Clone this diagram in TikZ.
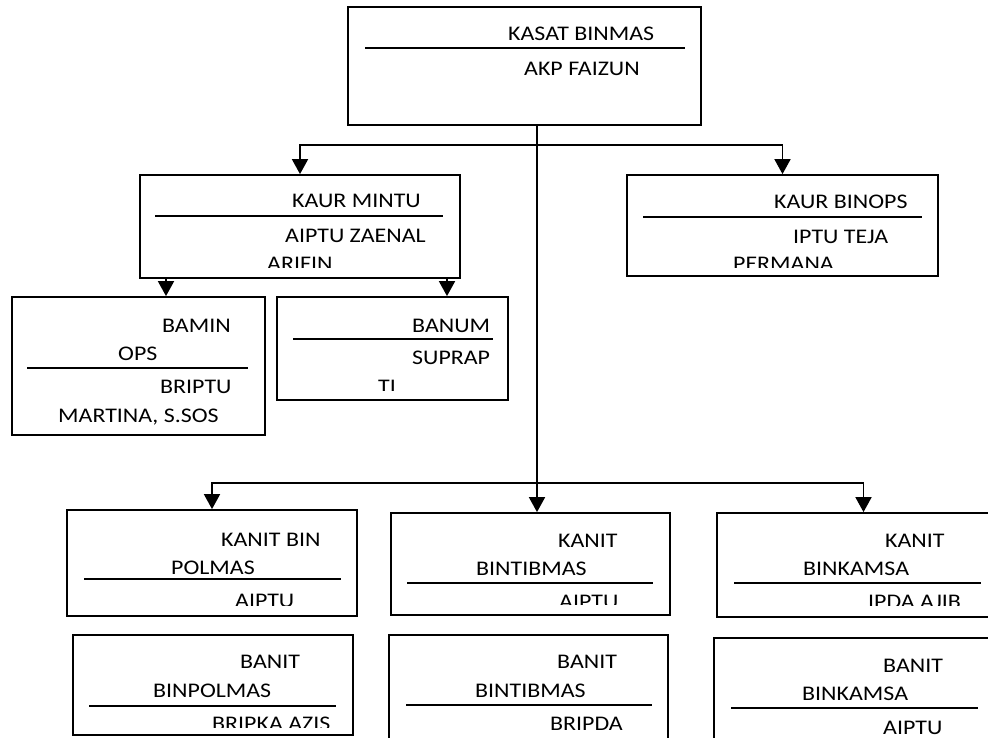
\documentclass[tikz,border=0pt]{standalone}
\usepackage{fontspec}
\setmainfont{Carlito}[FakeStretch=1.15]
\usetikzlibrary{arrows.meta}

\newcommand\labelfont{\fontsize{20.8}{24}\selectfont}

\tikzset{
  orgbox/.style={draw, line width=1.8pt, inner sep=0pt, fill=white},
  txt/.style={anchor=base west, inner sep=0pt, font=\labelfont},
  sepline/.style={line width=1.8pt},
  link/.style={line width=1.8pt},
  arrowlink/.style={line width=1.8pt, -{Triangle[width=16pt,length=15pt]}}
}

% box from corner (x1,y1) to (x2,y2)
\newcommand\orgnode[5]{%
  \node[orgbox, minimum width={(#4-#2)*1pt}, minimum height={(#5-#3)*1pt}]
    (#1) at ({(#2+#4)/2},{(#3+#5)/2}) {};}
% one line of text, left end and baseline
\newcommand\tline[4]{\node[txt] (#1) at (#2,#3) {#4};}
% rule under the title of a box
\newcommand\titlerule[3]{\draw[sepline] (#1,#3) -- (#2,#3);}

\begin{document}
\begin{tikzpicture}[x=1pt,y=-1pt]
\clip (0,0) rectangle (988,737);
\fill[white] (0,0) rectangle (988,737);

% ---------- boxes ----------
\orgnode{kasat}{348}{7}{701}{125}
\orgnode{mintu}{140}{175}{460}{278}
\orgnode{binops}{627}{175}{938}{276}
\orgnode{bamin}{12}{297}{265}{435}
\orgnode{banum}{277}{297}{508}{400}
\orgnode{polmas}{67}{510}{357}{616}
\orgnode{tibmas}{391}{513}{670}{615}
\orgnode{kamsa}{717}{513}{1010}{617}
\orgnode{bpolmas}{73}{635}{353}{735}
\orgnode{btibmas}{389}{635}{668}{760}
\orgnode{bkamsa}{714}{638}{1010}{760}

% ---------- connectors ----------
\coordinate (upbar) at (537,145);
\coordinate (lowbar) at (537,483);
\coordinate (mintuL) at (166,0);
\coordinate (mintuR) at (447,0);

\draw[link] (kasat.south -| upbar) -- (lowbar);
\draw[arrowlink] (upbar) -| (mintu.north);
\draw[arrowlink] (upbar) -| (binops.north);
\draw[arrowlink] (lowbar) -| (polmas.north);
\draw[arrowlink] (lowbar) -- (tibmas.north -| lowbar);
\draw[arrowlink] (lowbar) -| (kamsa.north);
\draw[arrowlink] (mintu.south -| mintuL) -- (bamin.north -| mintuL);
\draw[arrowlink] (mintu.south -| mintuR) -- (banum.north -| mintuR);

% ---------- texts ----------
\tline{kasat1}{508}{40}{KASAT BINMAS}
\titlerule{365}{685}{48}
\tline{kasat2}{524}{75}{AKP FAIZUN}

\tline{mintu1}{292}{207}{KAUR MINTU}
\titlerule{155}{443}{216}
\tline{mintu2}{285}{242}{AIPTU ZAENAL}
\begin{scope}
  \clip (140,175) rectangle (460,267);
  \tline{mintu3}{267}{270}{ARIFIN}
\end{scope}

\tline{binops1}{774}{208}{KAUR BINOPS}
\titlerule{643}{922}{217}
\tline{binops2}{793}{243}{IPTU TEJA}
\begin{scope}
  \clip (627,175) rectangle (938,267);
  \tline{binops3}{733}{270}{PERMANA}
\end{scope}

\tline{bamin1}{162}{332}{BAMIN}
\tline{bamin2}{118}{360}{OPS}
\titlerule{27}{248}{368}
\tline{bamin3}{160}{393}{BRIPTU}
\tline{bamin4}{58}{422}{MARTINA, S.SOS}

\tline{banum1}{412}{332}{BANUM}
\titlerule{293}{493}{339}
\tline{banum2}{412}{364}{SUPRAP}
\begin{scope}
  \clip (277,297) rectangle (508,390);
  \tline{banum3}{378}{393}{TI}
\end{scope}

\tline{polmas1}{221}{546}{KANIT BIN}
\tline{polmas2}{171}{574}{POLMAS}
\titlerule{84}{341}{579}
\begin{scope}
  \clip (67,510) rectangle (357,605);
  \tline{polmas3}{235}{607}{AIPTU}
\end{scope}

\tline{tibmas1}{558}{547}{KANIT}
\tline{tibmas2}{476}{575}{BINTIBMAS}
\titlerule{407}{653}{583}
\begin{scope}
  \clip (391,513) rectangle (670,604);
  \tline{tibmas3}{559}{608}{AIPTU}
\end{scope}

\tline{kamsa1}{885}{547}{KANIT}
\tline{kamsa2}{803}{575}{BINKAMSA}
\titlerule{734}{981}{583}
\begin{scope}
  \clip (717,513) rectangle (1010,605);
  \tline{kamsa3}{868}{608}{IPDA AJIB}
\end{scope}

\tline{bpolmas1}{240}{668}{BANIT}
\tline{bpolmas2}{153}{697}{BINPOLMAS}
\titlerule{89}{336}{706}
\begin{scope}
  \clip (73,635) rectangle (353,727);
  \tline{bpolmas3}{212}{730}{BRIPKA AZIS}
\end{scope}

\tline{btibmas1}{557}{668}{BANIT}
\tline{btibmas2}{475}{697}{BINTIBMAS}
\titlerule{406}{652}{705}
\tline{btibmas3}{550}{730}{BRIPDA}

\tline{bkamsa1}{883}{672}{BANIT}
\tline{bkamsa2}{802}{700}{BINKAMSA}
\titlerule{731}{978}{708}
\begin{scope}
  \clip (714,638) rectangle (1010,735);
  \tline{bkamsa3}{883}{734}{AIPTU}
\end{scope}

\end{tikzpicture}
\end{document}
